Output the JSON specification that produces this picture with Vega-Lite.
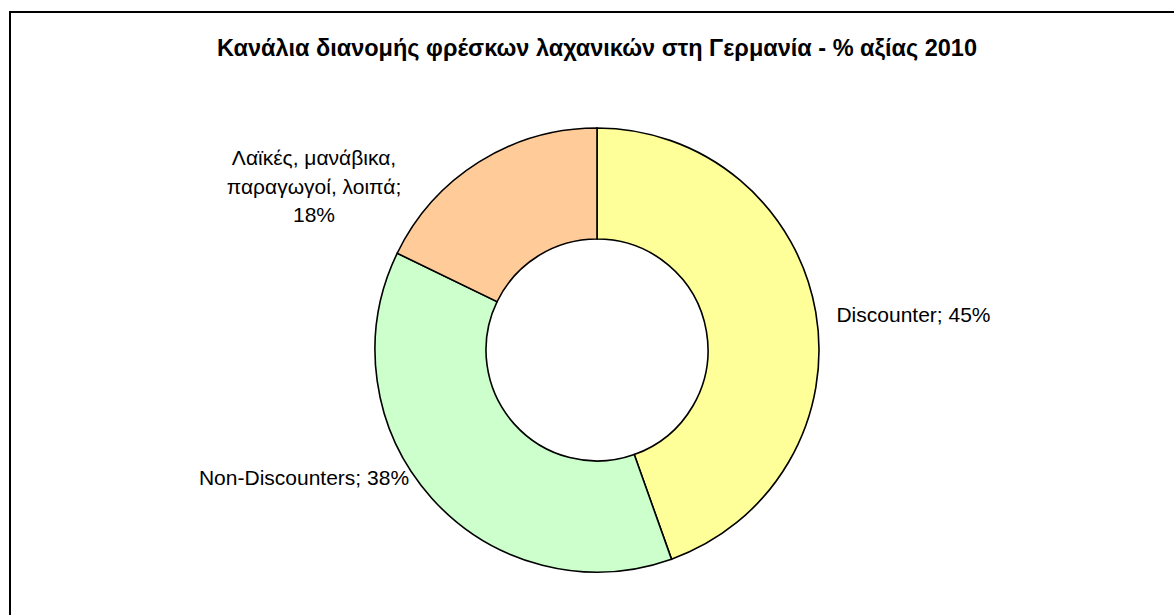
{
  "$schema": "https://vega.github.io/schema/vega-lite/v6.json",
  "autosize": {"type": "none"},
  "width": 1174,
  "height": 676,
  "padding": {"left": 10, "top": 12, "right": 0, "bottom": 0},
  "background": "white",
  "view": {"stroke": "black", "strokeWidth": 2, "fill": "white"},
  "config": {
    "view": {"stroke": "black", "strokeWidth": 2},
    "font": "Liberation Sans"
  },
  "title": {
    "text": "Κανάλια διανομής φρέσκων λαχανικών στη Γερμανία - % αξίας 2010",
    "anchor": "middle",
    "font": "Liberation Sans",
    "fontSize": 23.5,
    "fontWeight": "bold",
    "color": "black",
    "dy": 52
  },
  "data": {
    "values": [
      {"channel": "Discounter", "share": 45, "rank": 1, "label": "Discounter; 45%"},
      {"channel": "Non-Discounters", "share": 38, "rank": 2, "label": "Non-Discounters; 38%"},
      {"channel": "Λαϊκές, μανάβικα, παραγωγοί, λοιπά", "share": 18, "rank": 3, "label": "Λαϊκές, μανάβικα,\nπαραγωγοί, λοιπά;\n18%"}
    ]
  },
  "encoding": {
    "theta": {"field": "share", "type": "quantitative", "stack": true},
    "order": {"field": "rank", "type": "quantitative"}
  },
  "layer": [
    {
      "mark": {"type": "arc", "outerRadius": 222, "innerRadius": 111, "stroke": "black", "strokeWidth": 1.6},
      "encoding": {
        "color": {
          "field": "channel",
          "type": "nominal",
          "scale": {
            "domain": ["Discounter", "Non-Discounters", "Λαϊκές, μανάβικα, παραγωγοί, λοιπά"],
            "range": ["#FFFF99", "#CCFFCC", "#FFCC99"]
          },
          "legend": null
        }
      }
    },
    {
      "mark": {"type": "text", "radius": 243, "align": "left", "baseline": "middle", "dy": 7, "fontSize": 21, "color": "black"},
      "encoding": {
        "text": {"condition": {"test": "datum.rank == 1", "field": "label"}, "value": ""}
      }
    },
    {
      "mark": {"type": "text", "radius": 192, "align": "right", "baseline": "middle", "dx": -45, "dy": 1, "fontSize": 21, "color": "black"},
      "encoding": {
        "text": {"condition": {"test": "datum.rank == 2", "field": "label"}, "value": ""}
      }
    },
    {
      "mark": {"type": "text", "radius": 192, "align": "center", "baseline": "middle", "dx": -181, "dy": -28, "fontSize": 21, "lineHeight": 28.5, "lineBreak": "\n", "color": "black"},
      "encoding": {
        "text": {"condition": {"test": "datum.rank == 3", "field": "label"}, "value": ""}
      }
    }
  ]
}
